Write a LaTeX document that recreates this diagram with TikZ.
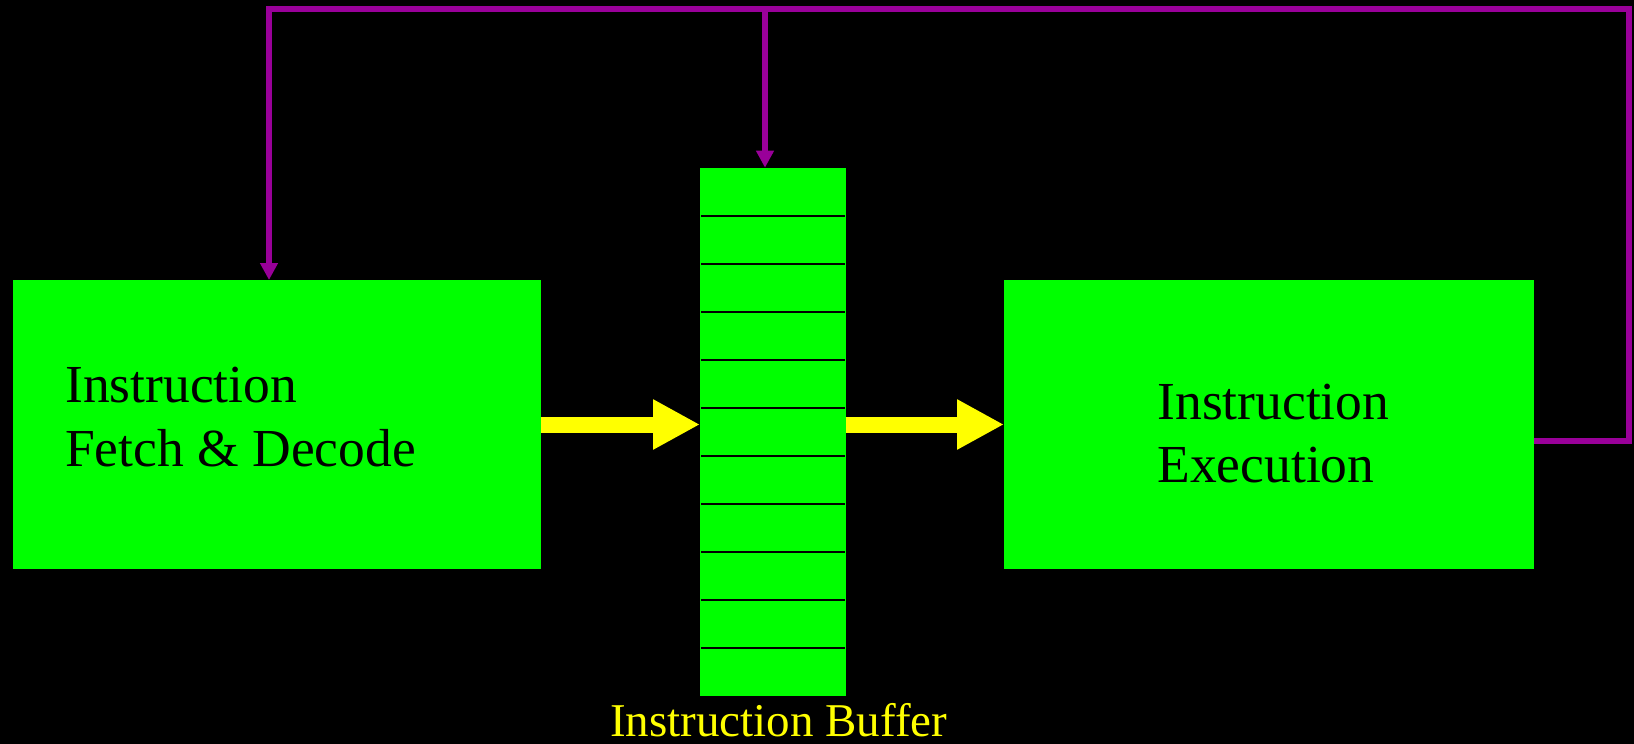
\documentclass[tikz,border=0pt]{standalone}
\usepackage{fontspec}
\setmainfont{Liberation Serif}
\usetikzlibrary{arrows.meta}
\definecolor{boxgreen}{RGB}{0,255,0}
\definecolor{arrowyellow}{RGB}{255,255,0}
\definecolor{fbpurple}{RGB}{153,0,153}
\tikzset{
  greenbox/.style={draw=none, fill=boxgreen, rectangle, inner sep=0pt, outer sep=0pt},
  boxlabel/.style={anchor=base west, inner sep=0pt, text=black, font=\fontsize{53.5}{63.3}\selectfont},
  buflabel/.style={anchor=base west, inner sep=0pt, text=arrowyellow, font=\fontsize{47}{55}\selectfont},
  flow/.style={draw=arrowyellow, line width=16pt, -{Triangle[width=47pt,length=47pt]}, shorten >=0pt},
  feedback/.style={draw=fbpurple, line width=5.6pt, line join=miter},
  feedtip/.style={-{Triangle[width=17pt,length=17pt]}},
  slot/.style={draw=black, line width=1.6pt}
}
\begin{document}
\begin{tikzpicture}[x=1pt,y=-1pt]
\useasboundingbox (0,0) rectangle (1634,744);
\fill[black] (0,0) rectangle (1634,744);

% boxes
\node[greenbox, minimum width=528.5pt, minimum height=289pt] (fetch) at (276.75,424.5) {};
\node[greenbox, minimum width=145.5pt, minimum height=528.3pt] (buf) at (772.75,431.85) {};
\node[greenbox, minimum width=529.5pt, minimum height=289pt] (exec) at (1268.75,424.5) {};

% buffer slots
\foreach \k in {1,...,10}{
  \draw[slot] ([xshift=1pt,yshift=-48.03*\k pt]buf.north west) -- ([xshift=-1pt,yshift=-48.03*\k pt]buf.north east);
}

% labels
\node[boxlabel] (fetchA) at (65,402.7) {Instruction};
\node[boxlabel] (fetchB) at (65,466.7) {Fetch \& Decode};
\node[boxlabel] (execA) at (1157.3,419) {Instruction};
\node[boxlabel] (execB) at (1157.3,482.3) {Execution};
\node[buflabel] (bufname) at (610,736.5) {Instruction Buffer};

% yellow flow arrows
\draw[flow] (fetch.east) -- (fetch.east -| buf.west);
\draw[flow] (fetch.east -| buf.east) -- (exec.west);

% feedback path
\coordinate (exOut) at (1533.5,440.8);
\coordinate (rc) at (1629,440.8);
\coordinate (tr) at (1629,8.8);
\coordinate (tl) at (269,8.8);
\coordinate (tm) at (765,8.8);
\draw[feedback, feedtip] (exOut) -- (rc) -- (tr) -- (tl) -- (tl |- fetch.north);
\draw[feedback, feedtip] (tm) -- (tm |- buf.north);
\end{tikzpicture}
\end{document}
